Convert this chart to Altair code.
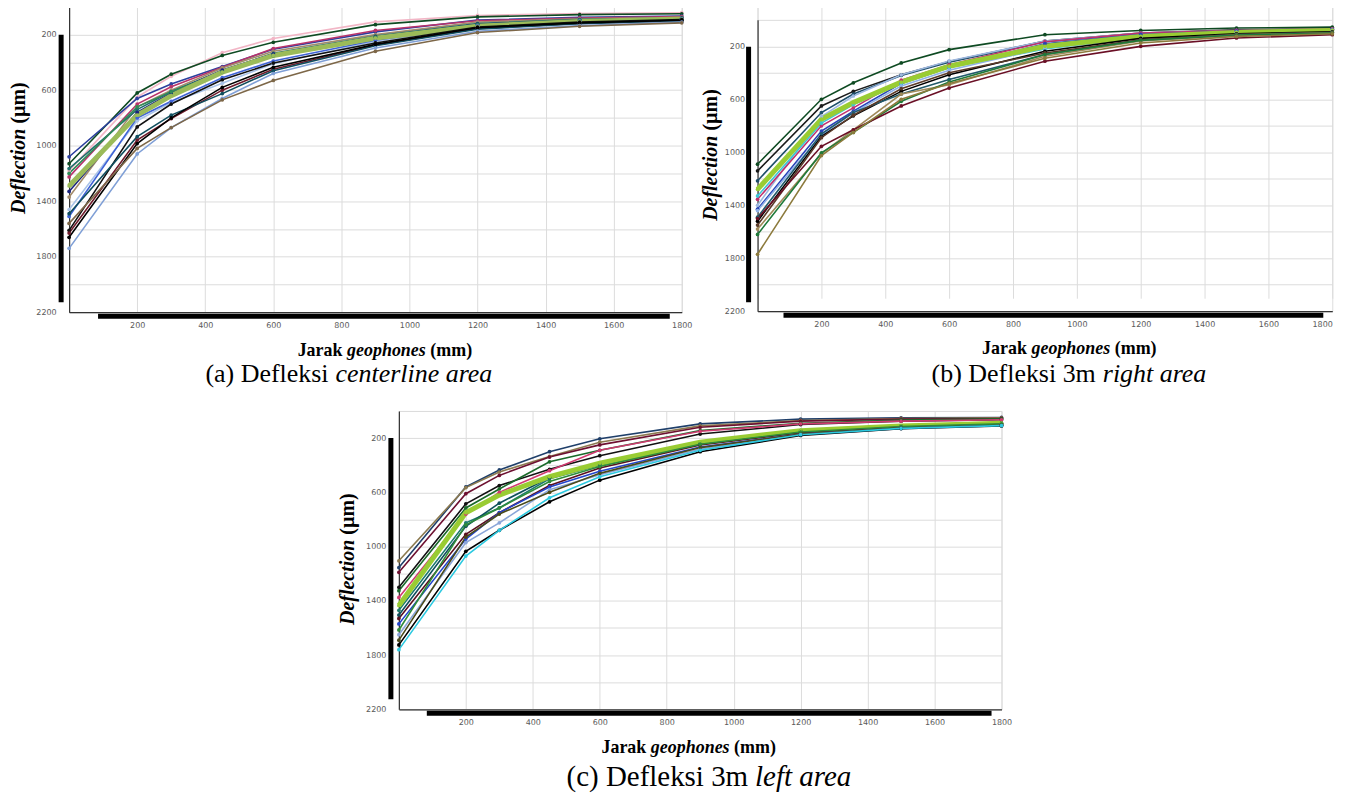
import altair as alt
import pandas as pd

# ---------------- data ----------------
GEOPHONES = [0, 200, 300, 450, 600, 900, 1200, 1500, 1800]

CENTER_NAMES = [f"C{i}" for i in range(1, 18)]
CENTER_DEFL = [
    [1180, 650, 500, 330, 228, 108, 62, 48, 42],
    [1130, 620, 485, 350, 255, 128, 72, 56, 50],
    [1080, 660, 555, 430, 305, 180, 95, 75, 66],
    [1225, 700, 575, 435, 300, 170, 100, 80, 70],
    [1370, 720, 600, 440, 320, 200, 110, 86, 76],
    [1165, 740, 610, 460, 335, 210, 120, 90, 80],
    [1330, 760, 620, 455, 340, 215, 125, 95, 82],
    [1200, 720, 612, 470, 352, 218, 128, 96, 84],
    [1460, 820, 690, 550, 410, 250, 140, 106, 90],
    [1510, 800, 680, 510, 390, 240, 135, 100, 86],
    [1290, 780, 640, 470, 350, 225, 140, 105, 88],
    [1610, 865, 700, 525, 405, 260, 145, 110, 92],
    [1630, 960, 805, 600, 450, 275, 155, 120, 100],
    [1490, 935, 780, 625, 460, 280, 160, 121, 101],
    [1660, 985, 800, 580, 435, 270, 150, 115, 96],
    [1740, 1060, 870, 660, 480, 296, 175, 135, 110],
    [1560, 1020, 870, 670, 530, 320, 185, 140, 115],
]
CENTER_BOLD = "C11"

RIGHT_NAMES = [f"R{i}" for i in range(1, 17)]
RIGHT_DEFL = [
    [1090, 600, 475, 325, 225, 112, 80, 62, 55],
    [1140, 650, 540, 415, 315, 160, 100, 76, 66],
    [1215, 700, 560, 420, 320, 165, 105, 80, 70],
    [1400, 730, 575, 415, 310, 160, 100, 80, 70],
    [1355, 800, 665, 455, 340, 165, 100, 80, 70],
    [1430, 840, 690, 480, 360, 180, 110, 85, 75],
    [1330, 780, 640, 480, 360, 220, 130, 95, 80],
    [1440, 870, 700, 500, 380, 210, 130, 95, 80],
    [1280, 750, 625, 470, 350, 200, 125, 95, 80],
    [1520, 880, 725, 540, 415, 237, 140, 105, 90],
    [1490, 860, 700, 560, 450, 262, 150, 110, 95],
    [1550, 890, 720, 520, 400, 250, 150, 110, 95],
    [1580, 1010, 830, 560, 490, 275, 160, 115, 100],
    [1620, 1005, 850, 615, 470, 262, 155, 115, 100],
    [1500, 955, 830, 650, 515, 312, 200, 137, 112],
    [1770, 1025, 850, 600, 480, 290, 175, 125, 105],
]
RIGHT_BOLD = "R9"

LEFT_NAMES = [f"L{i}" for i in range(1, 17)]
LEFT_DEFL = [
    [1155, 560, 435, 300, 205, 95, 60, 50, 48],
    [1105, 565, 450, 335, 230, 110, 70, 55, 50],
    [1190, 610, 475, 340, 250, 120, 75, 60, 55],
    [1300, 685, 550, 430, 330, 170, 100, 75, 65],
    [1325, 715, 575, 375, 290, 145, 90, 66, 58],
    [1375, 760, 600, 440, 290, 150, 95, 75, 65],
    [1470, 825, 715, 500, 400, 240, 150, 115, 95],
    [1505, 850, 680, 490, 390, 235, 145, 110, 90],
    [1435, 750, 620, 485, 385, 230, 145, 110, 90],
    [1530, 910, 750, 550, 420, 250, 160, 120, 100],
    [1570, 945, 750, 560, 445, 265, 170, 125, 105],
    [1615, 840, 715, 520, 410, 245, 155, 115, 95],
    [1650, 970, 825, 580, 470, 280, 175, 130, 108],
    [1690, 930, 760, 600, 460, 270, 170, 125, 105],
    [1725, 1035, 880, 670, 510, 300, 180, 130, 110],
    [1760, 1070, 880, 640, 485, 290, 175, 128, 108],
]
LEFT_BOLD = "L9"

# ---------------- styles ----------------
CENTER_COLORS = ["#f2b6c6", "#0e4a22", "#2b3f9e", "#b8336a", "#a38b6b", "#1f6f6c",
                 "#1a237e", "#2e8b57", "#a9c3e8", "#3f63d6", "#9bbb59", "#111111",
                 "#6d1a2a", "#104e5e", "#000000", "#7f9fd6", "#7d6748"]
RIGHT_COLORS = ["#0e4a22", "#1a1a1a", "#1e4f6a", "#9db8e0", "#c0306e", "#2743b8",
                "#3ec6d6", "#8fb1e8", "#99cc33", "#000000", "#215a6b", "#5b3a29",
                "#a08a5a", "#1f7a3a", "#6a0f25", "#8c7a3c"]
LEFT_COLORS = ["#1f3f6a", "#8c7a50", "#6d1030", "#111111", "#1a6a2a", "#d03a70",
               "#1d7a6e", "#0e4f5c", "#99cc33", "#5a0f1f", "#2244cc", "#2e8b3a",
               "#8aa5d8", "#4a4a1a", "#000000", "#2cc9e0"]

SERIF = "Liberation Serif"
SANS = "DejaVu Sans"


def long_df(names, rows):
    recs = []
    for n, row in zip(names, rows):
        for g, d in zip(GEOPHONES, row):
            recs.append({"titik": n, "jarak": g, "defleksi": d})
    return pd.DataFrame(recs)


def txt(s, x, y, size, weight="normal", style="normal", align="left",
        angle=0, baseline="alphabetic"):
    return alt.Chart(pd.DataFrame({"t": [s]})).mark_text(
        font=SERIF, fontSize=size, fontWeight=weight, fontStyle=style,
        align=align, angle=angle, baseline=baseline, color="black"
    ).encode(text="t:N", x=alt.value(x), y=alt.value(y))


def vbar(x, y1, y2):
    return alt.Chart(pd.DataFrame({"k": [0]})).mark_rule(
        color="black", strokeWidth=5, strokeCap="butt"
    ).encode(x=alt.value(x), y=alt.value(y1), y2=alt.value(y2))


def hbar(x1, x2, y, opacity=1):
    return alt.Chart(pd.DataFrame({"k": [0]})).mark_rule(
        color="black", strokeWidth=5, strokeCap="butt", opacity=opacity
    ).encode(x=alt.value(x1), x2=alt.value(x2), y=alt.value(y))


def panel(names, rows, colors, bold, w, h, yrange, lay, flush=False, extra=None):
    df = long_df(names, rows)
    x = alt.X("jarak:Q",
              scale=alt.Scale(domain=[0, 1800], nice=False, zero=False),
              axis=alt.Axis(values=list(range(0, 1801, 200)), format="d",
                            labelExpr="datum.value == 0 ? '' : datum.label",
                            title=None, ticks=False, tickSize=0, labelPadding=9,
                            labelFont=SANS, labelFontSize=8, labelColor="#5a5a5a",
                            labelFlush=flush, labelOverlap=False,
                            domainColor="#333333", domainWidth=1.2,
                            gridColor="#dcdcdc", gridWidth=1))
    y = alt.Y("defleksi:Q",
              scale=alt.Scale(domain=[0, 2200], range=yrange, nice=False, zero=False),
              axis=alt.Axis(values=list(range(0, 2201, 200)), format="d",
                            labelExpr="datum.value % 400 == 200 ? datum.label : ''",
                            title=None, ticks=False, tickSize=0, labelPadding=13,
                            labelFont=SANS, labelFontSize=8, labelColor="#5a5a5a",
                            labelFlush=False, labelOverlap=False,
                            domainColor="#333333", domainWidth=1.2,
                            gridColor="#dcdcdc", gridWidth=1))
    color = alt.Color("titik:N", scale=alt.Scale(domain=names, range=colors), legend=None)
    base = alt.Chart(df).encode(x=x, y=y, color=color)
    lines = base.mark_line().encode(
        strokeWidth=alt.condition(alt.datum.titik == bold, alt.value(5), alt.value(1.6)))
    pts = base.mark_circle(size=14, opacity=1)

    layers = [lines, pts]
    # y-axis title (mixed styles)
    layers.append(txt("Deflection", lay["yx"], lay["yj"], 20, "bold", "italic",
                      "right", 270, "middle"))
    layers.append(txt("(µm)", lay["yx"], lay["yj"] - 5, 20, "bold", "normal",
                      "left", 270, "middle"))
    # x-axis title
    gx, gy = lay["xc"], lay["xb"]
    layers.append(txt("geophones", gx, gy, 18, "bold", "italic", "center"))
    layers.append(txt("Jarak", gx - 44, gy, 18, "bold", "normal", "right"))
    layers.append(txt("(mm)", gx + 44, gy, 18, "bold", "normal", "left"))
    # caption
    layers.append(txt(lay["cap1"], lay["cj"] - 3, lay["cb"], lay["cs"], "normal", "normal", "right"))
    layers.append(txt(lay["cap2"], lay["cj"] + 4, lay["cb"], lay["cs"], "normal", "italic", "left"))
    # thick black bars
    layers.append(vbar(lay["bx"], lay["by1"], lay["by2"]))
    layers.append(hbar(lay["hx1"], lay["hx2"], lay["hy"]))
    if extra is not None:
        layers.append(hbar(extra[0], extra[1], 0, opacity=0))
    return alt.layer(*layers).properties(width=w, height=h).resolve_scale(color="independent")


pa = panel(CENTER_NAMES, CENTER_DEFL, CENTER_COLORS, CENTER_BOLD, 614, 306, [0, 306],
           dict(yx=-50, yj=122, xc=318, xb=350, cap1="(a) Defleksi",
                cap2="centerline area", cj=263, cb=376, cs=26,
                bx=-8, by1=28, by2=296, hx1=29, hx2=602, hy=310))
pb = panel(RIGHT_NAMES, RIGHT_DEFL, RIGHT_COLORS, RIGHT_BOLD, 576, 305, [13, 305],
           dict(yx=-47, yj=129, xc=314, xb=348, cap1="(b) Defleksi 3m",
                cap2="right area", cj=342, cb=376, cs=26,
                bx=-9, by1=40, by2=296, hx1=26, hx2=567, hy=309), flush=True)
pc = panel(LEFT_NAMES, LEFT_DEFL, LEFT_COLORS, LEFT_BOLD, 604, 299, [0, 299],
           dict(yx=-51, yj=129, xc=292, xb=343, cap1="(c) Defleksi 3m",
                cap2="left area", cj=353, cb=376, cs=29,
                bx=-8, by1=27, by2=289, hx1=28, hx2=594, hy=303),
           extra=(604, 615))

row1 = alt.hconcat(pa, pb, spacing=7).resolve_scale(
    x="independent", y="independent", color="independent")
chart = alt.vconcat(row1, pc, spacing=18, center=True).resolve_scale(
    x="independent", y="independent", color="independent"
).properties(
    padding={"left": 0, "top": -7, "right": 0, "bottom": 0}
).configure_view(stroke=None).configure(background="white")

chart.save("out.html", embed_options={"renderer": "svg", "actions": False})
